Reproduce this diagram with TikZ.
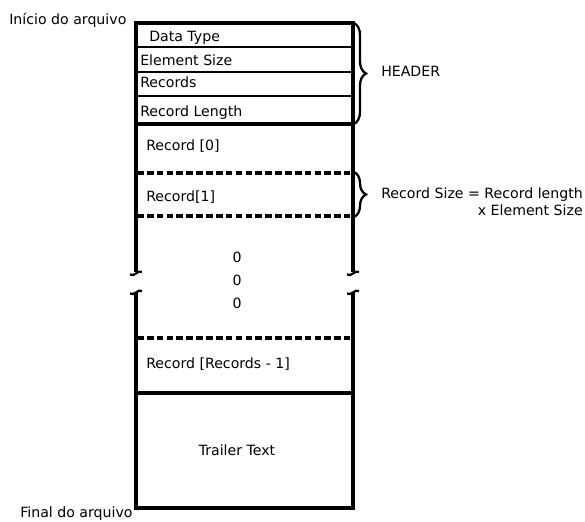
\documentclass[tikz,border=0pt]{standalone}
\usepackage{fontspec}
\setmainfont{DejaVu Sans}
\usetikzlibrary{decorations.pathreplacing,positioning}
\tikzset{
  file frame/.style={draw=black, line width=2.5pt},
  field rule/.style={draw=black, line width=1.8pt},
  record rule/.style={draw=black, line width=2.4pt, dash pattern=on 5pt off 2.4pt},
  break mark/.style={draw=black, line width=1.7pt},
  field label/.style={font=\fontsize{10.6}{12.5}\selectfont, inner sep=0pt},
  file brace/.style={draw=black, line width=1.7pt, decorate,
    decoration={brace, amplitude=9pt}}
}
% small wavy end where the frame sides are cut
\newcommand{\sideBreak}[2]{%
  \draw[break mark] ({#1-6},{#2+1.5}) .. controls ({#1-2},{#2+4.5}) and ({#1+2},{#2-3.5}) .. ({#1+6},{#2-1});%
}

\begin{document}
\begin{tikzpicture}[x=0.75pt,y=-0.75pt]
  \useasboundingbox (0,0) rectangle (585,521);

  % outer frame, cut between the dots
  \draw[file frame] (136,272) -- (136,23) -- (353,23) -- (353,272);
  \draw[file frame] (136,293) -- (136,508) -- (353,508) -- (353,293);
  \sideBreak{136}{273}
  \sideBreak{353}{273}
  \sideBreak{136}{292}
  \sideBreak{353}{292}

  % header fields
  \draw[field rule] (136,47) -- (353,47);
  \draw[field rule] (136,72) -- (353,72);
  \draw[field rule] (136,96) -- (353,96);
  \draw[file frame] (136,124) -- (353,124);
  \draw[file frame] (136,393) -- (353,393);

  % record boundaries
  \draw[record rule] (137,173) -- (350,173);
  \draw[record rule] (137,216) -- (350,216);
  \draw[record rule] (137,338) -- (350,338);

  \node[field label,anchor=base west] (datatype) at (149,41) {Data Type};
  \node[field label,anchor=base west] (elemsize) at (140,65) {Element Size};
  \node[field label,anchor=base west] (records) at (140,87) {Records};
  \node[field label,anchor=base west] (reclength) at (140,116) {Record Length};
  \node[field label,anchor=base west] (rec0) at (146,150) {Record [0]};
  \node[field label,anchor=base west] (rec1) at (146,201) {Record[1]};
  \node[field label,anchor=base] (dot1) at (237,262) {0};
  \node[field label,anchor=base] (dot2) at (237,285) {0};
  \node[field label,anchor=base] (dot3) at (237,308) {0};
  \node[field label,anchor=base west] (reclast) at (146,368) {Record [Records - 1]};
  \node[field label,anchor=base] (trailer) at (237,455) {Trailer Text};

  \node[field label,anchor=base west] (filestart) at (9,24) {Início do arquivo};
  \node[field label,anchor=base west] (fileend) at (20,517) {Final do arquivo};

  % braces on the right
  \draw[file brace] (354,23) -- (354,124) coordinate[midway] (hdrmid);
  \draw[file brace] (354,172) -- (354,217) coordinate[midway] (recmid);
  \node[field label,anchor=base west] (header) at (381,76) {HEADER};
  \node[field label,anchor=base west] (recsize) at (381,198) {Record Size = Record length};
  \node[field label,anchor=base east] (recsize2) at (583,215) {x Element Size};
\end{tikzpicture}
\end{document}
